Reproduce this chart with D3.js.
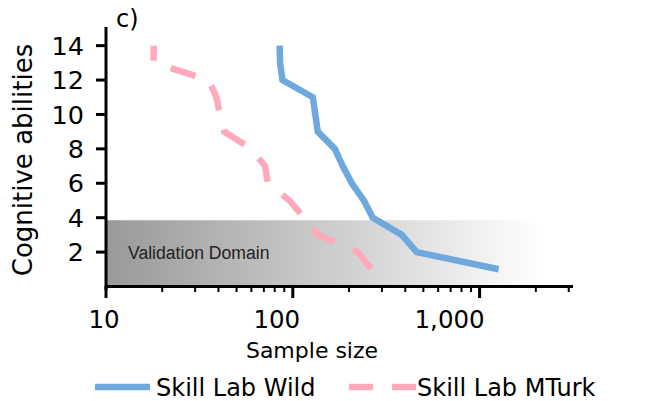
<!DOCTYPE html>
<html>
<head>
<meta charset="utf-8">
<script src="https://cdn.jsdelivr.net/npm/d3@7"></script>
<style>
  body { margin: 0; background: #fff; }
  text { font-family: "DejaVu Sans", sans-serif; fill: #000; }
</style>
</head>
<body>
<svg id="chart" width="646" height="401"></svg>
<script>
// abilities on the y axis, sample size needed on the x axis
var abilities = [14, 13, 12, 11, 10, 9, 8, 7, 6, 5, 4, 3, 2, 1];
var wildSamples = [85, 85.5, 88, 128, 132, 136, 168, 185, 207, 240, 268, 383, 460, 1265];
var mturkSamples = [18, 18, 35.5, 39, 40.7, 43, 60, 71, 73.5, 96, 115, 136, 223, 264];
var xTicks = [10, 100, 1000];
var yTicks = [2, 4, 6, 8, 10, 12, 14];
var validationX = [10, 2150];
var validationY = [0, 3.85];

var blue = "#6fa8dc",
  pink = "#ffaabb";

var svg = d3.select("#chart");

var x = d3.scaleLog().domain([10, 3162]).range([106, 573]);
var y = d3.scaleLinear().domain([0, 15.2]).range([286.5, 25]);

var defs = svg.append("defs");
var grad = defs.append("linearGradient").attr("id", "vd-grad");
grad.append("stop").attr("offset", "0%").attr("stop-color", "#999999");
grad.append("stop").attr("offset", "55%").attr("stop-color", "#d0d0d0");
grad.append("stop").attr("offset", "100%").attr("stop-color", "#ffffff");

// validation domain band
var vx0 = x(validationX[0]),
  vx1 = x(validationX[1]),
  vy0 = y(validationY[1]),
  vy1 = y(validationY[0]),
  r = 22;
svg
  .append("path")
  .attr(
    "d",
    "M" + vx0 + "," + vy0 +
      "H" + (vx1 - r) +
      "Q" + vx1 + "," + vy0 + " " + vx1 + "," + (vy0 + r) +
      "V" + vy1 + "H" + vx0 + "Z"
  )
  .attr("fill", "url(#vd-grad)");

svg
  .append("text")
  .attr("x", 128)
  .attr("y", 259)
  .style("font-family", "'Liberation Sans', Arial, sans-serif")
  .style("font-size", "17.6px")
  .style("fill", "#222")
  .text("Validation Domain");

// lines
var line = d3
  .line()
  .x(function (d) { return x(d[0]); })
  .y(function (d) { return y(d[1]); });

svg
  .append("path")
  .datum(d3.zip(wildSamples, abilities))
  .attr("d", line)
  .attr("fill", "none")
  .attr("stroke", blue)
  .attr("stroke-width", 6.5);

svg
  .append("path")
  .datum(d3.zip(mturkSamples, abilities))
  .attr("d", line)
  .attr("fill", "none")
  .attr("stroke", pink)
  .attr("stroke-width", 6.5)
  .attr("stroke-dasharray", "26,20")
  .attr("stroke-dashoffset", 11);

// x axis
var minor = [];
[10, 100, 1000].forEach(function (b) {
  for (var k = 2; k <= 9; k++) if (b * k <= 3162) minor.push(b * k);
});
svg
  .append("g")
  .selectAll("line")
  .data(minor)
  .enter()
  .append("line")
  .attr("x1", function (d) { return x(d); })
  .attr("x2", function (d) { return x(d); })
  .attr("y1", 286)
  .attr("y2", 292)
  .attr("stroke", "#000")
  .attr("stroke-width", 2);

svg
  .append("g")
  .selectAll("line")
  .data(xTicks)
  .enter()
  .append("line")
  .attr("x1", function (d) { return x(d); })
  .attr("x2", function (d) { return x(d); })
  .attr("y1", 286)
  .attr("y2", 298)
  .attr("stroke", "#000")
  .attr("stroke-width", 3);

// labels sit a little left of their ticks in the original
svg
  .append("g")
  .selectAll("text")
  .data(xTicks)
  .enter()
  .append("text")
  .attr("x", function (d) { return x(d) + 12 - 14 * Math.log10(d); })
  .attr("y", 328)
  .attr("text-anchor", "middle")
  .style("font-size", "24.5px")
  .text(d3.format(","));

svg
  .append("line")
  .attr("x1", 106)
  .attr("x2", 573)
  .attr("y1", 286.5)
  .attr("y2", 286.5)
  .attr("stroke", "#000")
  .attr("stroke-width", 3);

// y axis
svg
  .append("line")
  .attr("x1", 106)
  .attr("x2", 106)
  .attr("y1", 27)
  .attr("y2", 290)
  .attr("stroke", "#000")
  .attr("stroke-width", 3);

svg
  .append("g")
  .selectAll("line")
  .data(yTicks)
  .enter()
  .append("line")
  .attr("x1", 96)
  .attr("x2", 106)
  .attr("y1", function (d) { return y(d); })
  .attr("y2", function (d) { return y(d); })
  .attr("stroke", "#000")
  .attr("stroke-width", 3);

svg
  .append("g")
  .selectAll("text")
  .data(yTicks)
  .enter()
  .append("text")
  .attr("x", 84)
  .attr("y", function (d) { return y(d); })
  .attr("dy", "0.36em")
  .attr("text-anchor", "end")
  .style("font-size", "25.5px")
  .text(function (d) { return d; });

// titles
svg
  .append("text")
  .attr("transform", "translate(32,160) rotate(-90)")
  .attr("text-anchor", "middle")
  .style("font-size", "26px")
  .text("Cognitive abilities");

svg
  .append("text")
  .attr("x", 312)
  .attr("y", 358)
  .attr("text-anchor", "middle")
  .style("font-size", "22px")
  .text("Sample size");

svg
  .append("text")
  .attr("x", 116)
  .attr("y", 27)
  .style("font-size", "24px")
  .text("c)");

// legend
svg
  .append("line")
  .attr("x1", 95)
  .attr("x2", 150)
  .attr("y1", 387)
  .attr("y2", 387)
  .attr("stroke", blue)
  .attr("stroke-width", 6.5);
svg
  .append("text")
  .attr("x", 156)
  .attr("y", 396)
  .style("font-size", "24px")
  .text("Skill Lab Wild");

svg
  .append("line")
  .attr("x1", 349)
  .attr("x2", 417)
  .attr("y1", 387)
  .attr("y2", 387)
  .attr("stroke", pink)
  .attr("stroke-width", 6.5)
  .attr("stroke-dasharray", "24,19");
svg
  .append("text")
  .attr("x", 417)
  .attr("y", 396)
  .style("font-size", "24px")
  .text("Skill Lab MTurk");
</script>
</body>
</html>
